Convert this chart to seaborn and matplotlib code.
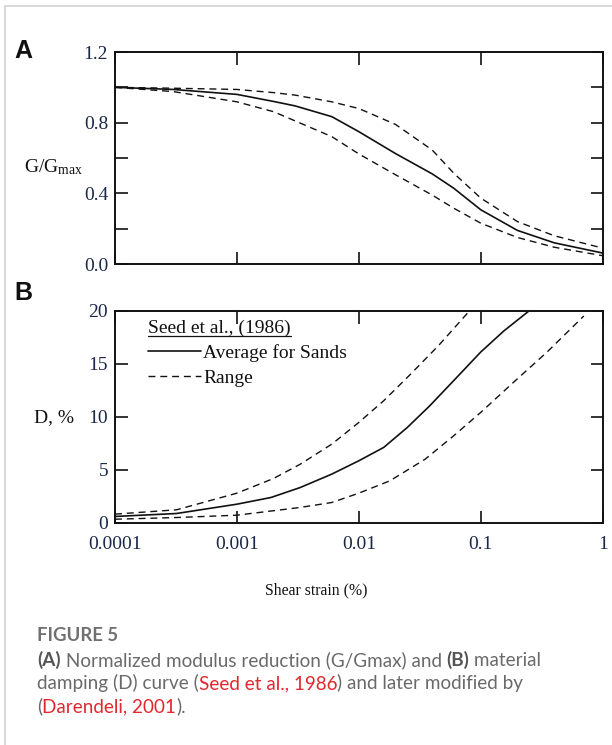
import matplotlib
matplotlib.use("Agg")
import numpy as np
import pandas as pd
import seaborn as sns
import matplotlib.pyplot as plt
from matplotlib.lines import Line2D
from matplotlib.ticker import NullLocator, FixedLocator, FixedFormatter

# ---- modulus reduction curves (panel A) ----
mod_strain = [1e-4, 3e-4, 1e-3, 2e-3, 3e-3, 6e-3, 1e-2, 2e-2, 4e-2, 6e-2, 1e-1, 2e-1, 4e-1, 1.0]
mod_avg = [1.0, 0.988, 0.96, 0.92, 0.895, 0.834, 0.749, 0.625, 0.51, 0.429, 0.307, 0.19, 0.12, 0.062]
mod_upper = [1.0, 0.995, 0.988, 0.97, 0.956, 0.918, 0.88, 0.79, 0.645, 0.514, 0.373, 0.24, 0.16, 0.09]
mod_lower = [1.0, 0.976, 0.918, 0.862, 0.81, 0.721, 0.623, 0.505, 0.39, 0.316, 0.231, 0.15, 0.095, 0.047]

# ---- damping curves (panel B) ----
damp_avg_strain = [1e-4, 3.2e-4, 1e-3, 1.9e-3, 3.3e-3, 6e-3, 1e-2, 1.6e-2, 2.5e-2, 3.8e-2, 6e-2, 1e-1, 1.55e-1, 2.5e-1]
damp_avg = [0.57, 0.85, 1.73, 2.36, 3.3, 4.57, 5.83, 7.09, 8.98, 11.0, 13.4, 16.1, 18.1, 20.0]
damp_upper_strain = [1e-4, 3.2e-4, 1e-3, 2e-3, 3.3e-3, 6e-3, 1e-2, 1.6e-2, 2.6e-2, 4.5e-2, 8.1e-2]
damp_upper = [0.79, 1.2, 2.77, 4.16, 5.5, 7.4, 9.45, 11.5, 13.9, 16.7, 20.0]
damp_lower_strain = [1e-4, 3.2e-4, 1e-3, 3.3e-3, 6e-3, 1e-2, 1.8e-2, 3.5e-2, 6e-2, 1e-1, 1.8e-1, 3.5e-1, 7e-1]
damp_lower = [0.31, 0.47, 0.69, 1.42, 1.89, 2.77, 3.94, 5.98, 8.19, 10.4, 13.1, 16.1, 19.5]

strain_ticks = [1e-4, 1e-3, 1e-2, 1e-1, 1.0]
strain_labels = ["0.0001", "0.001", "0.01", "0.1", "1"]
mod_ticks = [0.0, 0.2, 0.4, 0.6, 0.8, 1.0, 1.2]
mod_labels = ["0.0", "", "0.4", "", "0.8", "", "1.2"]
damp_ticks = [0, 5, 10, 15, 20]
damp_labels = ["0", "5", "10", "15", "20"]

legend_title = "Seed et al., (1986)"
legend_labels = ["Average for Sands", "Range"]

sns.set_theme(style="ticks")
plt.rcParams["font.family"] = ["Liberation Serif", "DejaVu Serif"]
plt.rcParams["mathtext.fontset"] = "custom"
plt.rcParams["mathtext.rm"] = "Liberation Serif"

INK = "#111111"
TICK_INK = "#1c2848"
DASH = (0, (5, 3.5))

W, H = 612, 745
fig = plt.figure(figsize=(W / 100, H / 100), dpi=100)
fig.patch.set_facecolor("white")


def px_rect(left, top, right, bottom):
    return [left / W, 1 - bottom / H, (right - left) / W, (bottom - top) / H]


axA = fig.add_axes(px_rect(115, 52, 602.7, 264))
axB = fig.add_axes(px_rect(115, 310.7, 602.7, 522.5))

df_mod = pd.DataFrame({"strain": mod_strain, "avg": mod_avg,
                       "upper": mod_upper, "lower": mod_lower})
sns.lineplot(data=df_mod, x="strain", y="avg", ax=axA, color=INK, lw=1.2)
sns.lineplot(data=df_mod, x="strain", y="upper", ax=axA, color=INK, lw=1.0, linestyle=DASH)
sns.lineplot(data=df_mod, x="strain", y="lower", ax=axA, color=INK, lw=1.0, linestyle=DASH)

df_da = pd.DataFrame({"strain": damp_avg_strain, "D": damp_avg})
df_du = pd.DataFrame({"strain": damp_upper_strain, "D": damp_upper})
df_dl = pd.DataFrame({"strain": damp_lower_strain, "D": damp_lower})
sns.lineplot(data=df_da, x="strain", y="D", ax=axB, color=INK, lw=1.2, label=legend_labels[0])
sns.lineplot(data=df_du, x="strain", y="D", ax=axB, color=INK, lw=1.0, linestyle=DASH, label=legend_labels[1])
sns.lineplot(data=df_dl, x="strain", y="D", ax=axB, color=INK, lw=1.0, linestyle=DASH)

for ax in (axA, axB):
    ax.set_xscale("log")
    ax.set_xlim(1e-4, 1.0)
    ax.xaxis.set_major_locator(FixedLocator(strain_ticks))
    ax.xaxis.set_minor_locator(NullLocator())
    ax.yaxis.set_minor_locator(NullLocator())
    ax.tick_params(which="major", direction="in", length=9, width=1.2,
                   top=True, right=True, colors=INK, labelcolor=TICK_INK,
                   labelsize=14)
    ax.tick_params(axis="y", pad=5)
    ax.tick_params(axis="x", pad=10)
    for sp in ax.spines.values():
        sp.set_visible(True)
        sp.set_color(INK)
        sp.set_linewidth(1.4)
    ax.set_facecolor("white")
    ax.grid(False)

axA.set_ylim(0, 1.2)
axA.yaxis.set_major_locator(FixedLocator(mod_ticks))
axA.yaxis.set_major_formatter(FixedFormatter(mod_labels))
axA.tick_params(axis="x", labelbottom=False)
axA.set_xlabel("")
axA.set_ylabel(r"$\mathregular{G/G_{max}}$", rotation=0, fontsize=14, color=INK,
               ha="center", va="center")
axA.yaxis.set_label_coords(-0.127, 0.455)

axB.set_ylim(0, 20)
axB.yaxis.set_major_locator(FixedLocator(damp_ticks))
axB.yaxis.set_major_formatter(FixedFormatter(damp_labels))
axB.xaxis.set_major_formatter(FixedFormatter(strain_labels))
axB.set_ylabel("D, %", rotation=0, fontsize=14, color=INK, ha="center", va="center")
axB.yaxis.set_label_coords(-0.125, 0.493)
axB.set_xlabel("Shear strain (%)", fontsize=11.3, color=INK, ha="center", va="center")
axB.xaxis.set_label_coords(0.412, -0.319)

handles, labels = axB.get_legend_handles_labels()
leg = axB.legend(handles, labels, title=legend_title, loc="upper left",
                 bbox_to_anchor=(0.068, 0.958), frameon=False, fontsize=14,
                 title_fontsize=14, handlelength=2.7, handletextpad=0.12,
                 labelspacing=0.37, borderpad=0, borderaxespad=0)
leg._legend_box.align = "left"
for t in leg.get_texts():
    t.set_color(INK)
leg.get_title().set_color(INK)

# panel letters
fig.text(14 / W, 1 - 58 / H, "A", fontsize=18, fontweight="bold",
         family=["Liberation Sans", "DejaVu Sans"], color="#111111", va="baseline")
fig.text(14 / W, 1 - 300 / H, "B", fontsize=18, fontweight="bold",
         family=["Liberation Sans", "DejaVu Sans"], color="#111111", va="baseline")

# card border (top and left edges)
fig.add_artist(Line2D([4.5 / W, 1.0], [1 - 5.5 / H] * 2, transform=fig.transFigure,
                      color="#d2d2d2", lw=1.2))
fig.add_artist(Line2D([4.5 / W] * 2, [0.0, 1 - 5.5 / H], transform=fig.transFigure,
                      color="#d2d2d2", lw=1.2))

fig.canvas.draw()
renderer = fig.canvas.get_renderer()

# underline of the legend title
tb = leg.get_title().get_window_extent(renderer)
fig.add_artist(Line2D([tb.x0 / W, tb.x1 / W], [(tb.y0 + 1) / H] * 2,
                      transform=fig.transFigure, color=INK, lw=0.9))

# caption
CAP_FONT = ["Lato", "DejaVu Sans"]
GRAY = "#6a6a6a"
DARK = "#555555"
RED = "#e0282e"


def text_width(s, **props):
    probe = fig.text(0, 0, s + "|", **props)
    bar = fig.text(0, 0, "|", **props)
    w = probe.get_window_extent(renderer).width - bar.get_window_extent(renderer).width
    probe.remove()
    bar.remove()
    return w


def rich_line(x_px, y_px, pieces, size=13.6):
    x = x_px
    for s, color, weight in pieces:
        props = dict(fontsize=size, family=CAP_FONT, color=color, fontweight=weight)
        fig.text(x / W, 1 - y_px / H, s, va="baseline", ha="left", **props)
        x += text_width(s, **props)


fig.text(37 / W, 1 - 641 / H, "FIGURE 5", fontsize=13.3, family=CAP_FONT,
         fontweight="bold", color="#707070", va="baseline")
rich_line(37, 666, [("(A)", DARK, "bold"),
                    (" Normalized modulus reduction (G/Gmax) and ", GRAY, "normal"),
                    ("(B)", DARK, "bold"),
                    (" material", GRAY, "normal")])
rich_line(37, 689, [("damping (D) curve (", GRAY, "normal"),
                    ("Seed et al., 1986", RED, "normal"),
                    (") and later modified by", GRAY, "normal")])
rich_line(37, 712, [("(", GRAY, "normal"),
                    ("Darendeli, 2001", RED, "normal"),
                    (").", GRAY, "normal")])

fig.savefig("out.png", dpi=100)
